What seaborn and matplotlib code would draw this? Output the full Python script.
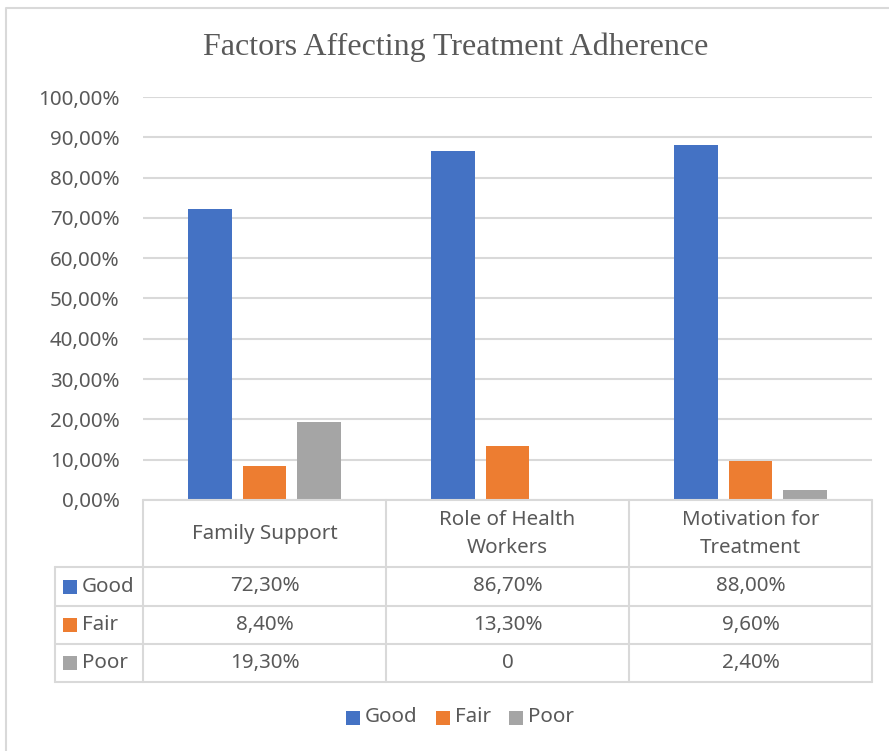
import textwrap
import matplotlib
matplotlib.use("Agg")
import matplotlib.pyplot as plt
import seaborn as sns
import pandas as pd
from matplotlib.patches import Rectangle
from matplotlib.ticker import FuncFormatter, MultipleLocator

# ---- data ----
categories = ["Family Support", "Role of Health Workers", "Motivation for Treatment"]
series_names = ["Good", "Fair", "Poor"]
good = [0.723, 0.867, 0.880]
fair = [0.084, 0.133, 0.096]
poor = [0.193, 0.0, 0.024]
colors = ["#4472C4", "#ED7D31", "#A5A5A5"]
title = "Factors Affecting Treatment Adherence"

series_values = [good, fair, poor]
df = pd.DataFrame({
    "category": categories * 3,
    "series": [s for s in series_names for _ in categories],
    "value": good + fair + poor,
})

sns.set_theme(style="white")
plt.rcParams["font.family"] = ["Noto Sans", "DejaVu Sans"]
TXT = "#595959"
GRID = "#d9d9d9"
FS = 14.8

W, H = 889, 751
fig = plt.figure(figsize=(W / 100, H / 100), dpi=100)
fig.patch.set_facecolor("white")

def fx(x):
    return x / W

def fy(y):
    return 1 - y / H

# plot area (pixel box)
L, R, T, B = 143, 872, 97, 500
ax = fig.add_axes([fx(L), fy(B), fx(R - L), (B - T) / H])
sns.barplot(data=df, x="category", y="value", hue="series", order=categories,
            hue_order=series_names, palette=colors, width=0.673, gap=0.21,
            legend=False, ax=ax, saturation=1, linewidth=0)
ax.set_ylim(0, 1.0)
ax.set_xlim(-0.5, len(categories) - 0.5)
ax.yaxis.set_major_locator(MultipleLocator(0.1))
ax.yaxis.set_major_formatter(FuncFormatter(lambda v, p: f"{v*100:.2f}%".replace(".", ",")))
ax.tick_params(axis="y", length=0, pad=17, labelsize=FS, labelcolor=TXT)
ax.set_xticks([])
ax.set_xlabel("")
ax.set_ylabel("")
for s in ax.spines.values():
    s.set_visible(False)
ax.grid(axis="y", color=GRID, linewidth=1.5)
ax.set_axisbelow(True)
ax.set_facecolor("none")

# overlay in pixel coordinates
ov = fig.add_axes([0, 0, 1, 1], zorder=5)
ov.set_xlim(0, W)
ov.set_ylim(H, 0)
ov.axis("off")
ov.patch.set_alpha(0)

# chart border
ov.plot([6, 6, W], [H, 8, 8], color=GRID, lw=1.5)

# title
ov.text(455.5, 47, title, ha="center", va="center", fontsize=23,
        color=TXT, family=["Liberation Serif", "DejaVu Serif"])

# data table
col_edges = [143, 386, 629, 872]
header_top, header_bot = 500, 567
row_edges = [567, 606, 644, 682]
lab_left = 55
lw = 1.5
for x in col_edges:
    ov.plot([x, x], [header_top, row_edges[-1]], color=GRID, lw=lw)
ov.plot([lab_left, lab_left], [row_edges[0], row_edges[-1]], color=GRID, lw=lw)
ov.plot([col_edges[0], col_edges[-1]], [header_top, header_top], color=GRID, lw=lw)
for y in row_edges:
    ov.plot([lab_left, col_edges[-1]], [y, y], color=GRID, lw=lw)

for i, cat in enumerate(categories):
    cx = (col_edges[i] + col_edges[i + 1]) / 2
    ov.text(cx, (header_top + header_bot) / 2 + 0.5, textwrap.fill(cat, 15),
            ha="center", va="center", fontsize=FS, color=TXT, linespacing=1.55)

def fmt(v):
    return "0" if v == 0 else f"{v*100:.2f}%".replace(".", ",")

for r, (name, vals, col) in enumerate(zip(series_names, series_values, colors)):
    cy = (row_edges[r] + row_edges[r + 1]) / 2
    ov.add_patch(Rectangle((63, cy - 7), 14, 14, color=col, lw=0))
    ov.text(82, cy, name, ha="left", va="center", fontsize=FS, color=TXT)
    for i, v in enumerate(vals):
        cx = (col_edges[i] + col_edges[i + 1]) / 2
        ov.text(cx, cy, fmt(v), ha="center", va="center", fontsize=FS, color=TXT)

# legend
leg_x = [346, 436, 509]
leg_y = 717.5
for x, name, col in zip(leg_x, series_names, colors):
    ov.add_patch(Rectangle((x, leg_y - 7), 14, 14, color=col, lw=0))
    ov.text(x + 19, leg_y, name, ha="left", va="center", fontsize=FS, color=TXT)

fig.savefig("out.png", dpi=100)
